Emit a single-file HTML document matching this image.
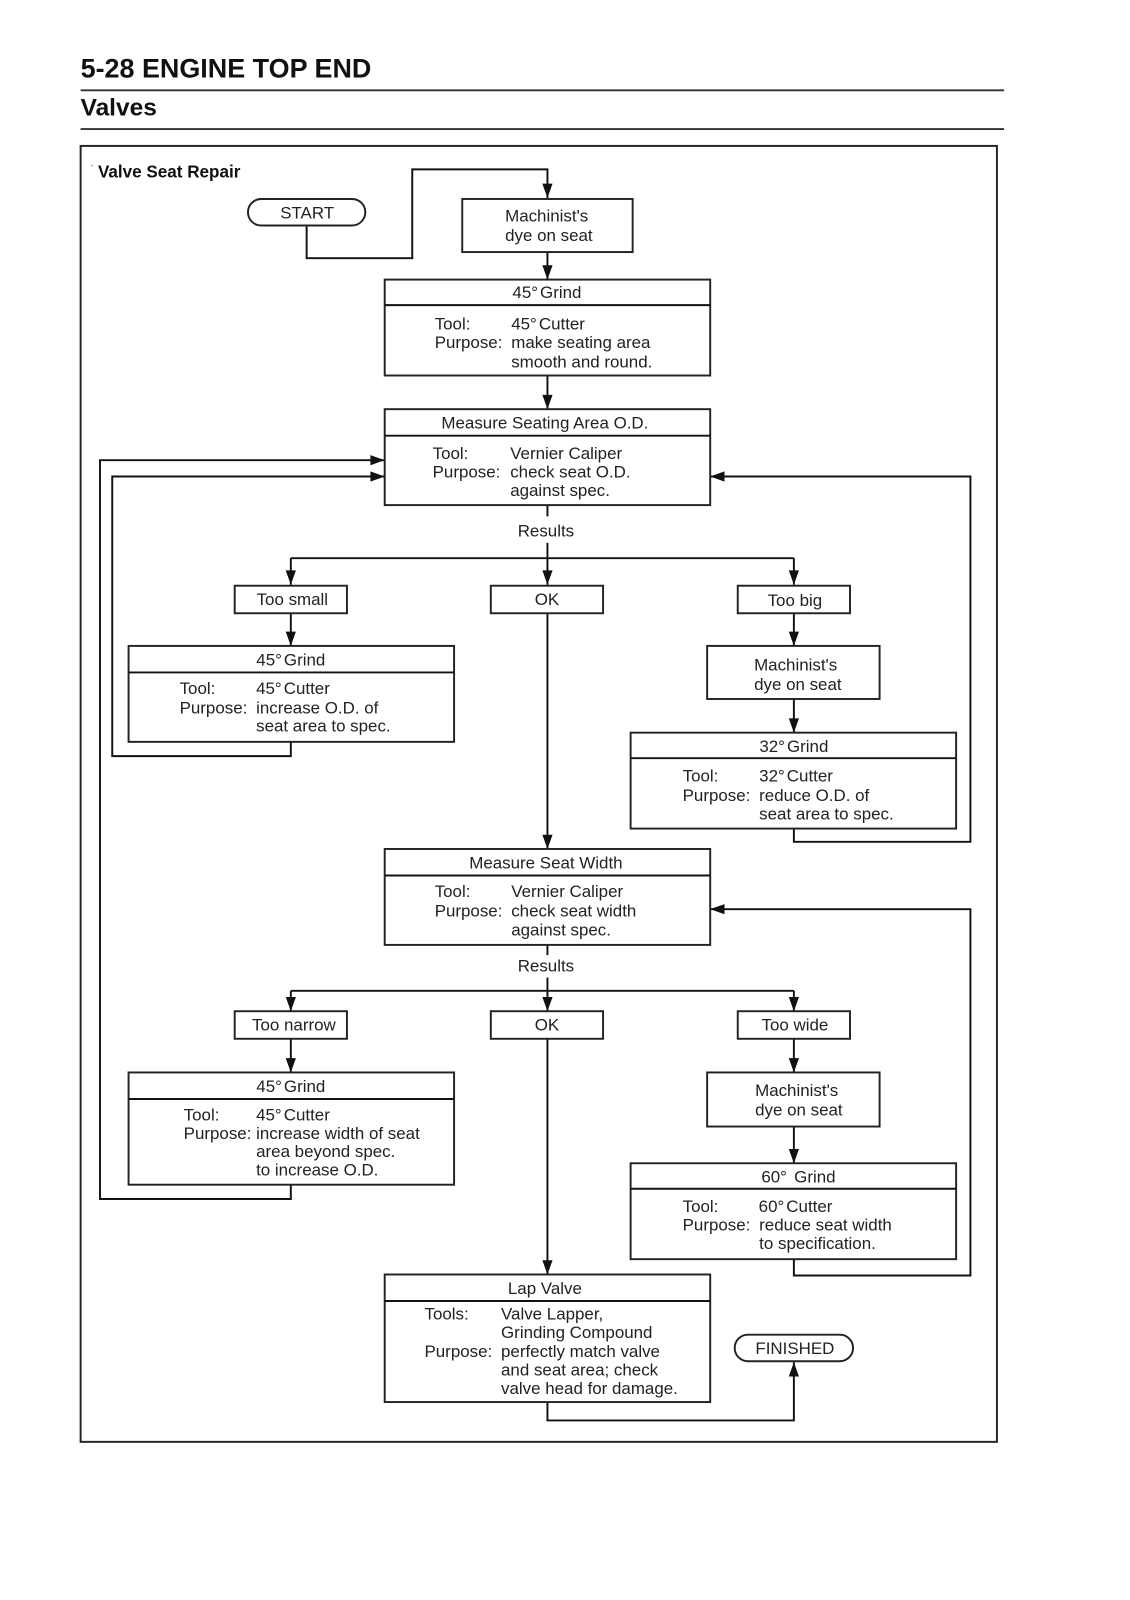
<!DOCTYPE html>
<html><head><meta charset="utf-8"><title>Valve Seat Repair</title>
<style>
html,body{margin:0;padding:0;background:#fff;width:1130px;height:1600px;overflow:hidden}
svg{display:block;filter:blur(.3px)}
text{font-family:"Liberation Sans",sans-serif;font-size:16.6px;fill:#222}
.m{text-anchor:middle}
.d{word-spacing:-2.6px}
.b{font-weight:bold;fill:#111}
.r{fill:#fff;stroke:#222;stroke-width:1.9}
.l{fill:none;stroke:#111;stroke-width:1.9}
.a{fill:#111;stroke:none}
</style></head><body>
<svg width="1130" height="1600" viewBox="0 0 1107.4 1568" xmlns="http://www.w3.org/2000/svg">
<rect width="1107.4" height="1568" fill="#fff"/>
<text class="b" x="79" y="76" style="font-size:26.4px;fill:#111">5-28 ENGINE TOP END</text>
<path class="l" d="M79 88.5H984M79 126.5H984" style="stroke:#333"/>
<text class="b" x="79" y="113" style="font-size:24px">Valves</text>
<rect class="r" x="79" y="143" width="898" height="1270"/>
<rect x="89.500" y="161.500" width="1.500" height="1" fill="#777"/>
<text class="b" x="96" y="174" style="font-size:16.75px">Valve Seat Repair</text>

<!-- connectors -->
<path class="l" d="M300.500 221V253H404V166H536.500V194"/>
<path class="l" d="M536.500 247V274M536.500 368V401M536.500 495V547M285 547H778M285 547V573M536.500 547V573M778 547V573"/>
<path class="l" d="M285 601V633M778 601V633M778 685V718M536.500 601V832M536.500 926V971M285 971H778M285 971V991M536.500 971V991M778 971V991"/>
<path class="l" d="M285 1018V1051M778 1018V1051M778 1104V1140M536.500 1018V1249"/>
<path class="l" d="M285 727V741H110V467H377M285 1161V1175H98V451H377"/>
<path class="l" d="M778 812V825H951V467H696M778 1234V1250H951V891H696"/>
<path class="l" d="M536.500 1374V1392H778V1335"/>

<!-- arrowheads -->
<g class="a">
<path d="M531.500 180L541.500 180L536.500 194Z"/>
<path d="M531.500 260L541.500 260L536.500 274Z"/>
<path d="M531.500 387L541.500 387L536.500 401Z"/>
<path d="M280 559L290 559L285 573Z"/>
<path d="M531.500 559L541.500 559L536.500 573Z"/>
<path d="M773 559L783 559L778 573Z"/>
<path d="M280 619L290 619L285 633Z"/>
<path d="M773 619L783 619L778 633Z"/>
<path d="M773 704L783 704L778 718Z"/>
<path d="M531.500 818L541.500 818L536.500 832Z"/>
<path d="M280 977L290 977L285 991Z"/>
<path d="M531.500 977L541.500 977L536.500 991Z"/>
<path d="M773 977L783 977L778 991Z"/>
<path d="M280 1037L290 1037L285 1051Z"/>
<path d="M773 1037L783 1037L778 1051Z"/>
<path d="M773 1126L783 1126L778 1140Z"/>
<path d="M531.500 1235L541.500 1235L536.500 1249Z"/>
<path d="M773 1349L783 1349L778 1335Z"/>
<path d="M363 446L363 456L377 451Z"/>
<path d="M363 462L363 472L377 467Z"/>
<path d="M710 462L710 472L696 467Z"/>
<path d="M710 886L710 896L696 891Z"/>
</g>

<!-- START -->
<rect class="r" x="243" y="195" width="115" height="26" rx="13"/>
<text class="m" x="301" y="214">START</text>

<!-- Machinist 1 -->
<rect class="r" x="453" y="195" width="167" height="52"/>
<text x="495" y="217">Machinist's</text>
<text x="495" y="236">dye on seat</text>

<!-- 45 grind 1 -->
<rect class="r" x="377" y="274" width="319" height="94"/>
<path class="l" d="M377 299H696"/>
<text class="m d" x="536" y="292">45° Grind</text>
<text x="426" y="323">Tool:</text><text class="d" x="501" y="323">45° Cutter</text>
<text x="426" y="341">Purpose:</text><text x="501" y="341">make seating area</text>
<text x="501" y="360">smooth and round.</text>

<!-- Measure O.D. -->
<rect class="r" x="377" y="401" width="319" height="94"/>
<path class="l" d="M377 427H696"/>
<text class="m" x="534" y="420">Measure Seating Area O.D.</text>
<text x="424" y="450">Tool:</text><text x="500" y="450">Vernier Caliper</text>
<text x="424" y="468">Purpose:</text><text x="500" y="468">check seat O.D.</text>
<text x="500" y="486">against spec.</text>

<rect x="505" y="506" width="60" height="26" fill="#fff"/>
<text class="m" x="535" y="526">Results</text>

<!-- Row 1 -->
<rect class="r" x="230" y="574" width="110" height="27"/>
<text class="m" x="286.500" y="593">Too small</text>
<rect class="r" x="481" y="574" width="110" height="27"/>
<text class="m" x="536" y="593">OK</text>
<rect class="r" x="723" y="574" width="110" height="27"/>
<text class="m" x="779" y="594">Too big</text>

<rect class="r" x="126" y="633" width="319" height="94"/>
<path class="l" d="M126 659H445"/>
<text class="m d" x="285" y="652">45° Grind</text>
<text x="176" y="680">Tool:</text><text class="d" x="251" y="680">45° Cutter</text>
<text x="176" y="699">Purpose:</text><text x="251" y="699">increase O.D. of</text>
<text x="251" y="717">seat area to spec.</text>

<rect class="r" x="693" y="633" width="169" height="52"/>
<text x="739" y="657">Machinist's</text>
<text x="739" y="676">dye on seat</text>

<rect class="r" x="618" y="718" width="319" height="94"/>
<path class="l" d="M618 743H937"/>
<text class="m d" x="778" y="737">32° Grind</text>
<text x="669" y="766">Tool:</text><text class="d" x="744" y="766">32° Cutter</text>
<text x="669" y="785">Purpose:</text><text x="744" y="785">reduce O.D. of</text>
<text x="744" y="803">seat area to spec.</text>

<!-- Measure width -->
<rect class="r" x="377" y="832" width="319" height="94"/>
<path class="l" d="M377 858H696"/>
<text class="m" x="535" y="851">Measure Seat Width</text>
<text x="426" y="879">Tool:</text><text x="501" y="879">Vernier Caliper</text>
<text x="426" y="898">Purpose:</text><text x="501" y="898">check seat width</text>
<text x="501" y="917">against spec.</text>

<rect x="505" y="936" width="60" height="22" fill="#fff"/>
<text class="m" x="535" y="952">Results</text>

<!-- Row 2 -->
<rect class="r" x="230" y="991" width="110" height="27"/>
<text class="m" x="288" y="1010">Too narrow</text>
<rect class="r" x="481" y="991" width="110" height="27"/>
<text class="m" x="536" y="1010">OK</text>
<rect class="r" x="723" y="991" width="110" height="27"/>
<text class="m" x="779" y="1010">Too wide</text>

<rect class="r" x="126" y="1051" width="319" height="110"/>
<path class="l" d="M126 1077H445"/>
<text class="m d" x="285" y="1070">45° Grind</text>
<text x="180" y="1098">Tool:</text><text class="d" x="251" y="1098">45° Cutter</text>
<text x="180" y="1116">Purpose:</text><text x="251" y="1116">increase width of seat</text>
<text x="251" y="1134">area beyond spec.</text>
<text x="251" y="1152">to increase O.D.</text>

<rect class="r" x="693" y="1051" width="169" height="53"/>
<text x="740" y="1074">Machinist's</text>
<text x="740" y="1093">dye on seat</text>

<rect class="r" x="618" y="1140" width="319" height="94"/>
<path class="l" d="M618 1165H937"/>
<text class="m" x="782.500" y="1159" style="word-spacing:2.500px">60° Grind</text>
<text x="669" y="1188">Tool:</text><text class="d" x="743.500" y="1188">60° Cutter</text>
<text x="669" y="1206">Purpose:</text><text x="744" y="1206">reduce seat width</text>
<text x="744" y="1224">to specification.</text>

<!-- Lap valve -->
<rect class="r" x="377" y="1249" width="319" height="125"/>
<path class="l" d="M377 1275H696"/>
<text class="m" x="534" y="1268">Lap Valve</text>
<text x="416" y="1293">Tools:</text><text x="491" y="1293">Valve Lapper,</text>
<text x="491" y="1311">Grinding Compound</text>
<text x="416" y="1330">Purpose:</text><text x="491" y="1330">perfectly match valve</text>
<text x="491" y="1348">and seat area; check</text>
<text x="491" y="1366">valve head for damage.</text>

<!-- FINISHED -->
<rect class="r" x="720" y="1308" width="116" height="26" rx="13"/>
<text class="m" x="779" y="1327">FINISHED</text>
</svg>
</body></html>
